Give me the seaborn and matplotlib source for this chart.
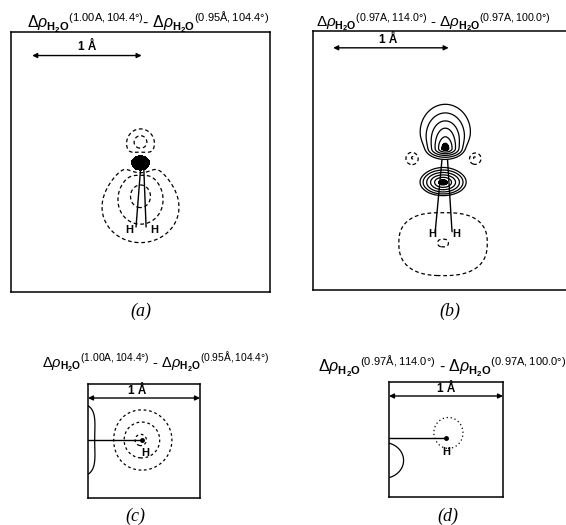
import numpy as np
import pandas as pd
import matplotlib
matplotlib.use("Agg")
import matplotlib.pyplot as plt
import seaborn as sns

sns.set_theme(style="white")
plt.rcParams.update({
    "font.family": ["Liberation Sans", "DejaVu Sans"],
    "mathtext.fontset": "custom",
    "mathtext.rm": "Liberation Sans",
    "mathtext.it": "Liberation Sans:italic",
    "mathtext.bf": "Liberation Sans:bold",
    "axes.edgecolor": "black",
    "axes.linewidth": 1.1,
})

# contour levels of the difference density (e/Å^3)
POS_LEVELS = [0.05, 0.1, 0.2, 0.4, 0.8, 1.6, 3.2]
NEG_LEVELS = [-0.4, -0.2, -0.1, -0.05]

# map components: centre (Å), decay lengths (Å), amplitude, profile exponent, shape power
A_CX = [0.0, 0.0, 0.0, 0.0]
A_CY = [0.0, 0.19, -0.40, -0.28]
A_SX = [0.027, 0.087, 0.41, 0.15]
A_SYUP = [0.023, 0.087, 0.37, 0.17]
A_SYDN = [0.023, 0.087, 0.37, 0.17]
A_AMP = [2.0, -0.178, -0.10, -0.16]
A_Q = [1, 1, 2, 2]
A_P = [2, 2, 2, 2]

B_CX = [0.0, 0.0, -0.02, -0.29, 0.26, -0.02]
B_CY = [0.08, 0.22, -0.22, 0.0, 0.0, -0.76]
B_SX = [0.04, 0.118, 0.054, 0.065, 0.065, 0.5]
B_SYUP = [0.06, 0.13, 0.032, 0.065, 0.065, 0.35]
B_SYDN = [0.02, 0.10, 0.032, 0.065, 0.065, 0.37]
B_AMP = [3.3, 0.35, 3.3, -0.12, -0.12, -0.11]
B_Q = [1, 1, 1, 1, 1, 1]
B_P = [2, 2, 2, 2, 2, 2.5]

C_CX = [-0.2, 0.48, 0.47]
C_CY = [0.0, 0.0, 0.0]
C_SX = [0.238, 0.26, 0.06]
C_SYUP = [0.284, 0.26, 0.06]
C_SYDN = [0.284, 0.26, 0.06]
C_AMP = [0.2, -0.146, -0.12]
C_Q = [2, 2, 2]
C_P = [4, 2, 2]

D_CX = [-0.05, 0.53]
D_CY = [-0.2, 0.045]
D_SX = [0.225, 0.17]
D_SYUP = [0.2, 0.18]
D_SYDN = [0.2, 0.18]
D_AMP = [0.095, -0.09]
D_Q = [2, 2]
D_P = [2, 2]

# bonds (x0, y0, x1, y1) and hydrogen label positions, Å from oxygen
A_BONDS = [(0.0, -0.06, -0.04, -0.57), (0.03, -0.06, 0.05, -0.57)]
A_HLAB = [(-0.10, -0.60), (0.12, -0.60)]
B_BONDS = [(-0.03, -0.02, -0.09, -0.66), (0.02, -0.02, 0.06, -0.66)]
B_HLAB = [(-0.12, -0.68), (0.10, -0.68)]
C_BONDS = [(0.0, 0.0, 0.48, 0.0)]
C_HLAB = [(0.51, -0.12)]
D_BONDS = [(0.0, 0.0, 0.51, 0.0)]
D_HLAB = [(0.51, -0.125)]

TITLES = [
    r"$\Delta\rho_{\mathbf{H_2O}}{}^{\mathrm{(1.00A,104.4°)}}$- $\Delta\rho_{\mathbf{H_2O}}{}^{\mathrm{(0.95Å,104.4°)}}$",
    r"$\Delta\rho_{\mathbf{H_2O}}{}^{\mathrm{(0.97A,114.0°)}}$ - $\Delta\rho_{\mathbf{H_2O}}{}^{\mathrm{(0.97A,100.0°)}}$",
    r"$\Delta\rho_{\mathbf{H_2O}}{}^{\mathrm{(1.00A,104.4°)}}$ - $\Delta\rho_{\mathbf{H_2O}}{}^{\mathrm{(0.95Å,104.4°)}}$",
    r"$\Delta\rho_{\mathbf{H_2O}}{}^{\mathrm{(0.97Å,114.0°)}}$ - $\Delta\rho_{\mathbf{H_2O}}{}^{\mathrm{(0.97A,100.0°)}}$",
]
PANEL_TAGS = ["a", "b", "c", "d"]


def density(X, Y, cx, cy, sx, syu, syd, amp, q, p):
    F = np.zeros_like(X)
    for i in range(len(cx)):
        dx = np.abs(X - cx[i]) / sx[i]
        sy = np.where(Y >= cy[i], syu[i], syd[i])
        dy = np.abs(Y - cy[i]) / sy
        d = (dx ** p[i] + dy ** p[i]) ** (1.0 / p[i])
        F += amp[i] * np.exp(-d ** q[i])
    return F


def draw_map(ax, xlim, ylim, comps, dash, fill_from=None, pos_lines=True):
    x = np.linspace(xlim[0], xlim[1], 700)
    y = np.linspace(ylim[0], ylim[1], 700)
    X, Y = np.meshgrid(x, y)
    F = density(X, Y, *comps)
    ax.contour(X, Y, F, levels=NEG_LEVELS, colors="black",
               linestyles=[dash], linewidths=0.9)
    if pos_lines:
        ax.contour(X, Y, F, levels=POS_LEVELS, colors="black",
                   linestyles="solid", linewidths=0.9)
    if fill_from is not None:
        ax.contourf(X, Y, F, levels=[fill_from, 1e3], colors="black")
    ax.set_xlim(*xlim)
    ax.set_ylim(*ylim)
    ax.set_xticks([])
    ax.set_yticks([])
    for s in ax.spines.values():
        s.set_color("black")
        s.set_linewidth(1.1)


def draw_bonds(ax, bonds, hlab, end_dot=False):
    rows = []
    for k, (x0, y0, x1, y1) in enumerate(bonds):
        rows += [dict(bond=k, x=x0, y=y0), dict(bond=k, x=x1, y=y1)]
    df = pd.DataFrame(rows)
    sns.lineplot(data=df, x="x", y="y", units="bond", estimator=None,
                 sort=False, color="black", lw=1.0, legend=False, ax=ax)
    if end_dot:
        ends = df.groupby("bond").tail(1)
        ax.plot(ends["x"], ends["y"], "o", color="black", ms=2.5)
    for hx, hy in hlab:
        ax.text(hx, hy, "H", ha="center", va="center", fontsize=8,
                fontweight="bold", color="black")
    ax.set_xlabel("")
    ax.set_ylabel("")


def scale_bar(ax, x0, x1, y, tx, ty):
    ax.annotate("", xy=(x1, y), xytext=(x0, y),
                arrowprops=dict(arrowstyle="<|-|>", color="black", lw=1.0,
                                mutation_scale=7, shrinkA=0, shrinkB=0),
                annotation_clip=False)
    ax.text(tx, ty, "1 Å", ha="center", va="center", fontsize=8.5,
            fontweight="bold", color="black")


W, H = 566, 525
fig = plt.figure(figsize=(W / 100, H / 100), dpi=100)


def add_axes_px(x0, y0, x1, y1):
    return fig.add_axes([x0 / W, 1 - y1 / H, (x1 - x0) / W, (y1 - y0) / H])


# (a) bond length change, molecular plane
ax_a = add_axes_px(11, 32, 270, 292)
draw_map(ax_a, (-1.16, 1.16), (-1.15, 1.17),
         (A_CX, A_CY, A_SX, A_SYUP, A_SYDN, A_AMP, A_Q, A_P),
         (0, (3, 2.2)), fill_from=0.05, pos_lines=False)
draw_bonds(ax_a, A_BONDS, A_HLAB)
scale_bar(ax_a, -0.97, 0.01, 0.96, -0.48, 1.04)

# (b) bond angle change, molecular plane
ax_b = add_axes_px(313, 31, 572, 290)
draw_map(ax_b, (-1.18, 1.13), (-1.18, 1.13),
         (B_CX, B_CY, B_SX, B_SYUP, B_SYDN, B_AMP, B_Q, B_P),
         (0, (3, 2.2)), fill_from=1.6)
draw_bonds(ax_b, B_BONDS, B_HLAB)
scale_bar(ax_b, -1.0, 0.03, 0.98, -0.51, 1.05)

# (c) bond length change, perpendicular plane
ax_c = add_axes_px(88, 384, 200, 498)
draw_map(ax_c, (0.0, 1.0), (-0.518, 0.5),
         (C_CX, C_CY, C_SX, C_SYUP, C_SYDN, C_AMP, C_Q, C_P),
         (0, (2.2, 2.2)))
draw_bonds(ax_c, C_BONDS, C_HLAB, end_dot=True)
scale_bar(ax_c, 0.0, 1.0, 0.375, 0.44, 0.44)

# (d) bond angle change, perpendicular plane
ax_d = add_axes_px(389, 382, 503, 497)
draw_map(ax_d, (0.0, 1.018), (-0.527, 0.5),
         (D_CX, D_CY, D_SX, D_SYUP, D_SYDN, D_AMP, D_Q, D_P),
         (0, (1, 2.2)))
draw_bonds(ax_d, D_BONDS, D_HLAB, end_dot=True)
scale_bar(ax_d, 0.0, 1.018, 0.375, 0.51, 0.44)

# panel headings and tags
title_pos = [(27, 22), (316, 22), (42, 363), (318, 366)]
title_size = [11.4, 10.9, 10.5, 11.5]
for (tx, ty), t, fs in zip(title_pos, TITLES, title_size):
    fig.text(tx / W, 1 - ty / H, t, ha="left", va="center", fontsize=fs,
             color="black")

tag_pos = [(141, 311), (450, 311), (135, 516), (448, 516)]
for (tx, ty), tag in zip(tag_pos, PANEL_TAGS):
    fig.text(tx / W, 1 - ty / H, f"({tag})", ha="center", va="center",
             fontsize=13, fontstyle="italic", family="Liberation Serif",
             color="black")

fig.savefig("out.png", dpi=100)
